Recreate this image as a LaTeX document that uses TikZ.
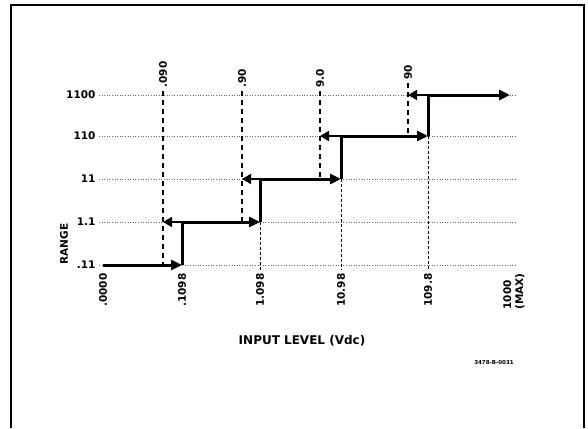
\documentclass[tikz,border=0pt]{standalone}
\usepackage{fontspec}
\setmainfont{DejaVu Sans}
\usetikzlibrary{arrows.meta}
\tikzset{
  stair/.style={line width=3pt,-{Triangle[length=11pt,width=10pt]}},
  rise/.style={line width=3pt},
  back/.style={line width=1.8pt,-{Triangle[length=9pt,width=10pt]}},
  drop/.style={line width=1.3pt,dash pattern=on 5pt off 4pt},
  tick/.style={line width=1pt,densely dashed},
  grid/.style={line width=0.6pt,dotted,black!60},
  lvl/.style={font=\fontsize{10.5}{12}\selectfont\bfseries},
  val/.style={font=\fontsize{10.5}{12}\selectfont\bfseries,rotate=90}
}
\begin{document}
\begin{tikzpicture}[x=1pt,y=-1pt]
            \useasboundingbox (0,0) rectangle (588,428);
            \draw[line width=1.6pt] (11,428) -- (11,5) -- (584,5) -- (584,428);
            % range levels
            \node[lvl,anchor=east] (r0) at (99,265) {.11};
            \node[lvl,anchor=east] (r1) at (99,222) {1.1};
            \node[lvl,anchor=east] (r2) at (99,179) {11};
            \node[lvl,anchor=east] (r3) at (99,136) {110};
            \node[lvl,anchor=east] (r4) at (99,95) {1100};
            \coordinate (g0) at (516,265);
            \coordinate (g1) at (516,222);
            \coordinate (g2) at (516,179);
            \coordinate (g3) at (516,136);
            \coordinate (g4) at (516,95);
            \draw[grid] (r0) -- (g0);
            \draw[grid] (r1) -- (g1);
            \draw[grid] (r2) -- (g2);
            \draw[grid] (r3) -- (g3);
            \draw[grid] (r4) -- (g4);
            % input values
            \node[val,anchor=east] (b0) at (103,270) {.0000};
            \node[val,anchor=east] (b1) at (182,270) {.1098};
            \node[val,anchor=east] (b2) at (260,270) {1.098};
            \node[val,anchor=east] (b3) at (341,270) {10.98};
            \node[val,anchor=east] (b4) at (428,270) {109.8};
            \node[val,anchor=north east,align=left,inner sep=1pt] (b5) at (502,272) {1000\\(MAX)};
            % downrange points
            \node[val,anchor=west] (q1) at (163,91) {.090};
            \node[val,anchor=west] (q2) at (242,91) {.90};
            \node[val,anchor=west] (q3) at (320,91) {9.0};
            \node[val,anchor=west] (q4) at (408,83) {90};
            \coordinate (d1) at (163,222);
            \coordinate (d2) at (242,179);
            \coordinate (d3) at (320,136);
            \coordinate (d4) at (408,95);
            \coordinate (e1) at (163,265);
            \coordinate (e2) at (242,222);
            \coordinate (e3) at (320,179);
            \coordinate (e4) at (408,136);
            \draw[drop] (q1) -- (e1);
            \draw[drop] (q2) -- (e2);
            \draw[drop] (q3) -- (e3);
            \draw[drop] (q4) -- (e4);
            % upranging staircase
            \coordinate (s0) at (103,265);
            \coordinate (s1) at (182,265);
            \coordinate (t1) at (182,222);
            \coordinate (s2) at (260,222);
            \coordinate (t2) at (260,179);
            \coordinate (s3) at (341,179);
            \coordinate (t3) at (341,136);
            \coordinate (s4) at (428,136);
            \coordinate (t4) at (428,95);
            \coordinate (s5) at (510,95);
            \draw[tick] (s2) -- (b2);
            \draw[tick] (s3) -- (b3);
            \draw[tick] (s4) -- (b4);
            \draw[stair] (s0) -- (s1);
            \draw[stair] (t1) -- (s2);
            \draw[stair] (t2) -- (s3);
            \draw[stair] (t3) -- (s4);
            \draw[stair] (t4) -- (s5);
            \draw[rise] (s1) -- (t1);
            \draw[rise] (s2) -- (t2);
            \draw[rise] (s3) -- (t3);
            \draw[rise] (s4) -- (t4);
            \draw[back] (t1) -- (d1);
            \draw[back] (t2) -- (d2);
            \draw[back] (t3) -- (d3);
            \draw[back] (t4) -- (d4);
            % axis titles
            \node[lvl,rotate=90] (yl) at (64,244) {RANGE};
            \node[font=\fontsize{12}{14}\selectfont\bfseries] (xl) at (302,341) {INPUT LEVEL (Vdc)};
            \node[font=\fontsize{5.5}{6}\selectfont\bfseries] (id) at (494,362) {3478-B-0031};
        \end{tikzpicture}
\end{document}
